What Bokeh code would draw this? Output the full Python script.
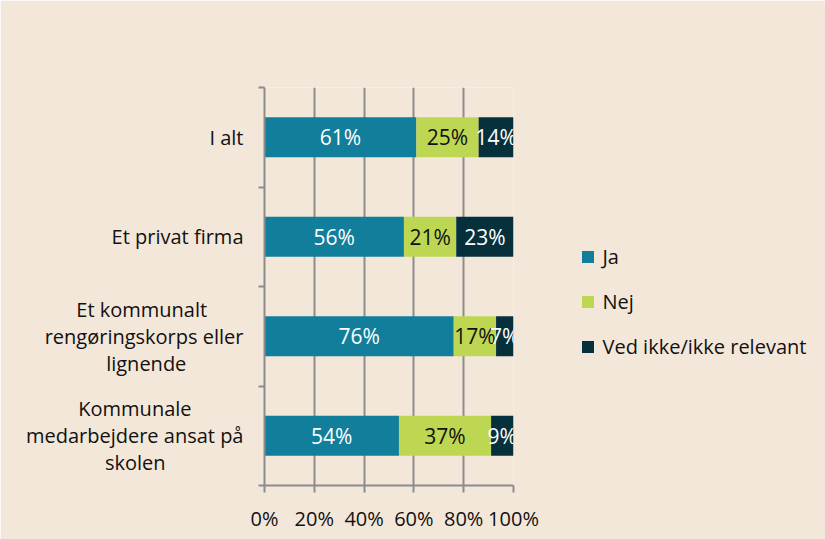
from bokeh.plotting import figure
from bokeh.models import FixedTicker, Range1d, ColumnDataSource, Legend, LegendItem
from bokeh.core.properties import value
from bokeh.embed import file_html
from bokeh.resources import INLINE

# ---- data ----
categories = [
    "I alt",
    "Et privat firma",
    "Et kommunalt\nrengøringskorps eller\nlignende",
    "Kommunale\nmedarbejdere ansat på\nskolen",
]
series = ["Ja", "Nej", "Ved ikke/ikke relevant"]
ja = [61, 56, 76, 54]
nej = [25, 21, 17, 37]
ved_ikke = [14, 23, 7, 9]
x_ticks = [0, 20, 40, 60, 80, 100]
x_tick_labels = ["0%", "20%", "40%", "60%", "80%", "100%"]

colors = ["#117E9B", "#BED753", "#07303D"]
label_colors = ["white", "#111111", "white"]
BG = "#F3E7DA"
GRID = "#8C8C8C"
FONT = "Open Sans"
FS = "20px"

n = len(categories)
ypos = [n - 0.5 - i for i in range(n)]

# approximate Open Sans advance widths (em) used only to centre wrapped lines
_W = {"i": .258, "l": .258, "j": .258, " ": .26, "t": .352, "f": .336, "r": .409,
      "s": .479, "c": .48, "m": .933, "w": .8, "k": .529, "v": .501}


def _width(s):
    return sum(_W.get(ch, .58) for ch in s)


def centre_lines(label):
    # Bokeh right-justifies multi-line axis labels; pad shorter lines with
    # no-break spaces so the lines appear centred as in the reference.
    lines = label.split("\n")
    longest = max(_width(s) for s in lines)
    return "\n".join(s + "\u00a0" * round((longest - _width(s)) / 2 / .26) for s in lines)


p = figure(frame_width=249, frame_height=398, output_backend="svg", toolbar_location=None,
           x_range=Range1d(0, 100), y_range=Range1d(0, n),
           min_border_left=264, min_border_right=0,
           min_border_top=87, min_border_bottom=54)
p.background_fill_color = BG
p.border_fill_color = BG
p.outline_line_color = None

vals = [ja, nej, ved_ikke]
left = [0.0] * n
renderers = []
for k, s in enumerate(series):
    right = [l + v for l, v in zip(left, vals[k])]
    src = ColumnDataSource(dict(y=ypos, left=left, right=right,
                                mid=[(l + r) / 2 for l, r in zip(left, right)],
                                lab=[f"{v}%" for v in vals[k]]))
    r = p.hbar(y="y", left="left", right="right", height=0.40, source=src,
               fill_color=colors[k], line_color=None)
    renderers.append(r)
    p.text(x="mid", y="y", text="lab", source=src, text_align="center",
           text_baseline="middle", text_color=label_colors[k],
           text_font=value(FONT), text_font_size="21px")
    left = right

# x axis
p.xaxis.ticker = FixedTicker(ticks=x_ticks)
p.xaxis.major_label_overrides = {t: l for t, l in zip(x_ticks, x_tick_labels)}
p.xaxis.major_tick_out = 7
p.xaxis.major_tick_in = 0
p.xaxis.major_label_standoff = 12

# y axis: labels at category centres, tick marks at boundaries
p.yaxis.ticker = FixedTicker(ticks=ypos, minor_ticks=list(range(n + 1)))
p.yaxis.major_label_overrides = {y: centre_lines(c) for y, c in zip(ypos, categories)}
p.yaxis.major_tick_out = 0
p.yaxis.major_tick_in = 0
p.yaxis.minor_tick_out = 6
p.yaxis.minor_tick_in = 0
p.yaxis.major_label_standoff = 15
p.yaxis.major_label_text_line_height = 1.0

for ax in (p.xaxis, p.yaxis):
    ax.axis_line_color = GRID
    ax.axis_line_width = 2
    ax.major_tick_line_color = GRID
    ax.major_tick_line_width = 2
    ax.minor_tick_line_color = GRID
    ax.minor_tick_line_width = 2
    ax.major_label_text_font = FONT
    ax.major_label_text_font_size = FS
    ax.major_label_text_color = "#111111"
p.xaxis.minor_tick_line_color = None

p.xgrid.ticker = FixedTicker(ticks=x_ticks)
p.xgrid.grid_line_color = GRID
p.xgrid.grid_line_width = 2
p.ygrid.visible = False

legend = Legend(items=[LegendItem(label=s, renderers=[r]) for s, r in zip(series, renderers)],
                location=(66.5, 125))
legend.border_line_color = None
legend.background_fill_alpha = 0
legend.padding = 0
legend.margin = 0
legend.glyph_width = 15
legend.glyph_height = 15
legend.label_height = 15
legend.spacing = 18
legend.label_standoff = 8
legend.label_text_font = FONT
legend.label_text_font_size = FS
legend.label_text_color = "#111111"
legend.label_text_baseline = "middle"
p.add_layout(legend, "right")

open("out.html", "w").write(file_html(p, INLINE))
